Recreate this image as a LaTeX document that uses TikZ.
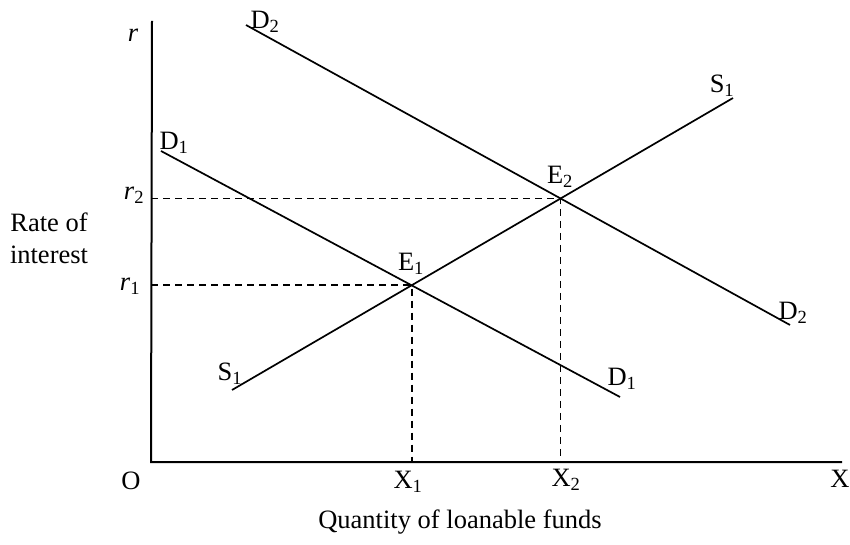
\documentclass[tikz,border=0pt]{standalone}
\usepackage{fontspec}
\setmainfont{Liberation Serif}
\usetikzlibrary{intersections}
\tikzset{
  axis/.style={draw=black, line width=2pt},
  curve/.style={draw=black, line width=1.7pt},
  guide/.style={draw=black, line width=1.8pt, dash pattern=on 7pt off 5pt},
  lbl/.style={font=\fontsize{26.5}{32}\selectfont, inner sep=0pt, align=center},
}

\begin{document}
\begin{tikzpicture}[x=1pt, y=-1pt]
  \useasboundingbox (0,0) rectangle (850,545);
  % axes
  \coordinate (O) at (151,462);
  \coordinate (ytop) at (152,21);
  \coordinate (xend) at (842,462);
  \draw[axis] (ytop) -- (O) -- (xend);
  % demand and supply
  \coordinate (d1a) at (161,151);
  \coordinate (d1b) at (620,397);
  \coordinate (d2a) at (246,25);
  \coordinate (d2b) at (790,325);
  \coordinate (s1a) at (232,390);
  \coordinate (s1b) at (733,98);
  \draw[curve, name path=D1] (d1a) -- (d1b);
  \draw[curve, name path=D2] (d2a) -- (d2b);
  \draw[curve, name path=S1] (s1a) -- (s1b);
  \path[name intersections={of=D1 and S1, by=E1}];
  \path[name intersections={of=D2 and S1, by=E2}];
  % equilibrium guides
  \draw[guide] (E1 -| O) -- (E1) -- (E1 |- O);
  \draw[guide] (E2 -| O) -- (E2) -- (E2 |- O);
  % labels
  \node[lbl] (r) at (133,35) {\textit{r}};
  \node[lbl] (r2) at (134,195) {\textit{r}\textsubscript{2}};
  \node[lbl] (r1) at (130,286) {\textit{r}\textsubscript{1}};
  \node[lbl] (rate) at (49,238) {Rate of\\ interest};
  \node[lbl] (d2top) at (265,22) {D\textsubscript{2}};
  \node[lbl] (d1top) at (174,143) {D\textsubscript{1}};
  \node[lbl] (e1) at (411,264) {E\textsubscript{1}};
  \node[lbl] (e2) at (560,177) {E\textsubscript{2}};
  \node[lbl] (s1top) at (722,86) {S\textsubscript{1}};
  \node[lbl] (s1bot) at (230,374) {S\textsubscript{1}};
  \node[lbl] (d2bot) at (793,313) {D\textsubscript{2}};
  \node[lbl] (d1bot) at (622,379) {D\textsubscript{1}};
  \node[lbl] (o) at (131,481) {O};
  \node[lbl] (x1) at (408,482) {X\textsubscript{1}};
  \node[lbl] (x2) at (566,480) {X\textsubscript{2}};
  \node[lbl] (x) at (840,479) {X};
  \node[lbl] (qty) at (460,522) {Quantity of loanable funds};
\end{tikzpicture}
\end{document}
